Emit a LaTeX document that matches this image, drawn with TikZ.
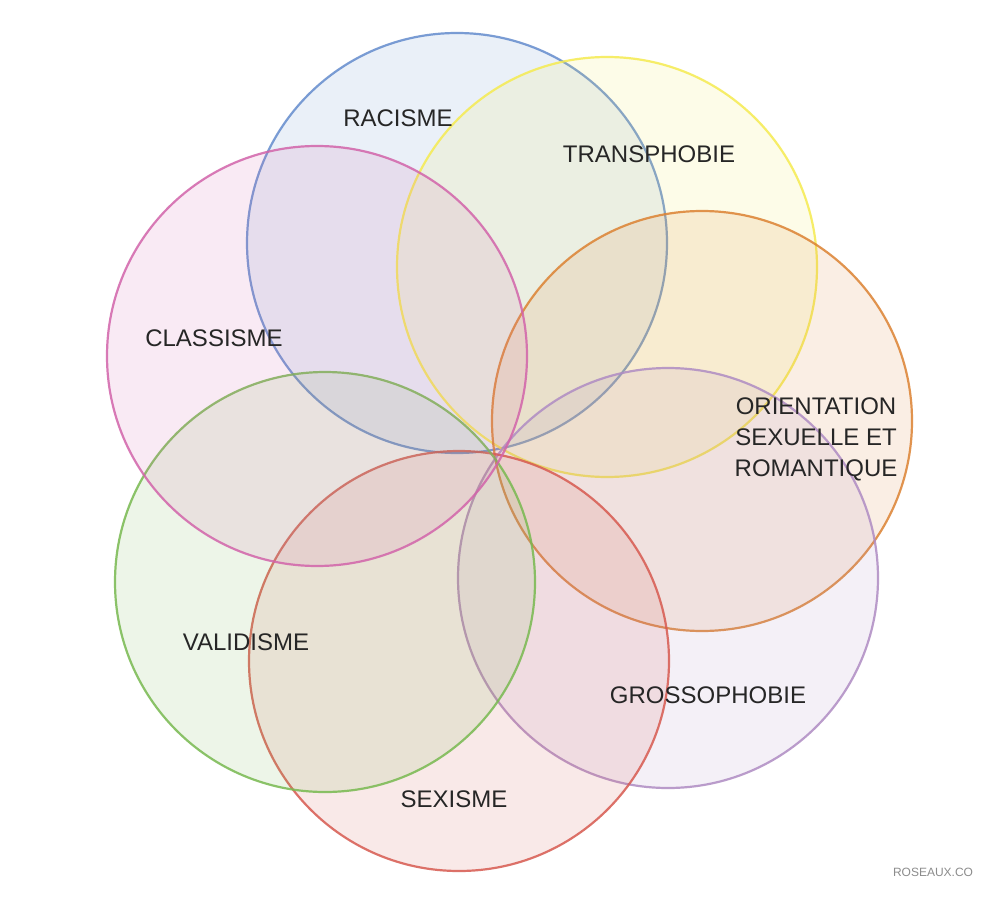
\documentclass[tikz,border=0pt]{standalone}
\usepackage{fontspec}
\setmainfont{Liberation Sans}
\begin{document}
\begin{tikzpicture}[x=1pt,y=-1pt,
  circ/.style={draw=#1,line width=2.2pt,fill=#1,fill opacity=0.13,draw opacity=0.85},
  lab/.style={font=\fontsize{24}{31}\selectfont,text=black!85,align=center}]
\useasboundingbox (0,0) rectangle (1000,896);
\fill[white] (0,0) rectangle (1000,896);
\definecolor{cblue}{RGB}{100,140,205}
\definecolor{cyel}{RGB}{245,235,80}
\definecolor{corg}{RGB}{220,130,50}
\definecolor{cpur}{RGB}{175,140,195}
\definecolor{cred}{RGB}{215,90,80}
\definecolor{cgrn}{RGB}{120,185,80}
\definecolor{cpink}{RGB}{210,100,170}
\path[circ=cblue] (457,243) circle (210) node (b) {};
\path[circ=cyel] (607,267) circle (210) node (y) {};
\path[circ=corg] (702,421) circle (210) node (o) {};
\path[circ=cpur] (668,578) circle (210) node (p) {};
\path[circ=cred] (459,661) circle (210) node (r) {};
\path[circ=cgrn] (325,582) circle (210) node (g) {};
\path[circ=cpink] (317,356) circle (210) node (k) {};
\node[lab] (t1) at (398,118) {RACISME};
\node[lab] (t2) at (649,154) {TRANSPHOBIE};
\node[lab] (t3) at (214,338) {CLASSISME};
\node[lab] (t4) at (816,439) {ORIENTATION\\SEXUELLE ET\\ROMANTIQUE};
\node[lab] (t5) at (246,642) {VALIDISME};
\node[lab] (t6) at (708,695) {GROSSOPHOBIE};
\node[lab] (t7) at (454,799) {SEXISME};
\node[font=\fontsize{12}{14}\selectfont,text=black!45] (w) at (933,872) {ROSEAUX.CO};
\end{tikzpicture}
\end{document}
